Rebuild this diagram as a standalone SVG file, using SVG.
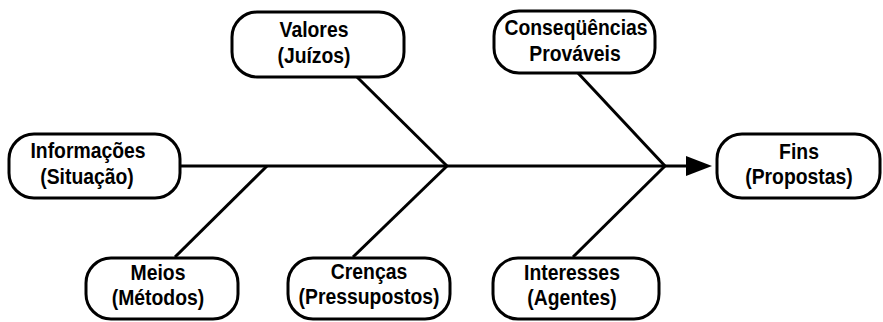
<svg xmlns="http://www.w3.org/2000/svg" width="883" height="322" viewBox="0 0 883 322">
<style>
.box{fill:#fff;stroke:#000;stroke-width:3}
.t{font-family:"Liberation Sans",Arial,sans-serif;font-size:22px;font-weight:bold;fill:#000;text-anchor:middle}
.ln{stroke:#000;stroke-width:3;fill:none}
</style>
<rect width="883" height="322" fill="#fff"/>
<g id="connectors">
<line class="ln" x1="180" y1="166" x2="695" y2="166"/>
<polygon points="712,166 686,156 686,176" fill="#000"/>
<line class="ln" x1="357" y1="77" x2="447" y2="166"/>
<line class="ln" x1="447" y1="166" x2="353" y2="257"/>
<line class="ln" x1="267" y1="166" x2="175" y2="257"/>
<line class="ln" x1="578" y1="73" x2="665" y2="166"/>
<line class="ln" x1="665" y1="166" x2="573" y2="257"/>
</g>
<g id="valores">
<rect class="box" x="232" y="12" width="172" height="65" rx="25"/>
<text class="t" transform="translate(314,37) scale(0.88,1)">Valores</text>
<text class="t" transform="translate(314,63) scale(0.88,1)">(Juízos)</text>
</g>
<g id="informacoes">
<rect class="box" x="9" y="134" width="171" height="64" rx="25"/>
<text class="t" transform="translate(88,158) scale(0.88,1)">Informações</text>
<text class="t" transform="translate(87,184) scale(0.88,1)">(Situação)</text>
</g>
<g id="consequencias">
<rect class="box" x="494" y="11" width="161" height="62" rx="25"/>
<text class="t" transform="translate(576,35) scale(0.88,1)">Conseqüências</text>
<text class="t" transform="translate(575,61) scale(0.88,1)">Prováveis</text>
</g>
<g id="fins">
<rect class="box" x="717" y="134" width="163" height="64" rx="25"/>
<text class="t" transform="translate(799,159) scale(0.88,1)">Fins</text>
<text class="t" transform="translate(799,184) scale(0.88,1)">(Propostas)</text>
</g>
<g id="meios">
<rect class="box" x="86" y="258" width="152" height="61" rx="25"/>
<text class="t" transform="translate(158,280) scale(0.88,1)">Meios</text>
<text class="t" transform="translate(158,305) scale(0.88,1)">(Métodos)</text>
</g>
<g id="crencas">
<rect class="box" x="288" y="258" width="162" height="61" rx="25"/>
<text class="t" transform="translate(369,279) scale(0.88,1)">Crenças</text>
<text class="t" transform="translate(369,304) scale(0.88,1)">(Pressupostos)</text>
</g>
<g id="interesses">
<rect class="box" x="493" y="258" width="166" height="61" rx="25"/>
<text class="t" transform="translate(572,280) scale(0.88,1)">Interesses</text>
<text class="t" transform="translate(572,305) scale(0.88,1)">(Agentes)</text>
</g>
</svg>
